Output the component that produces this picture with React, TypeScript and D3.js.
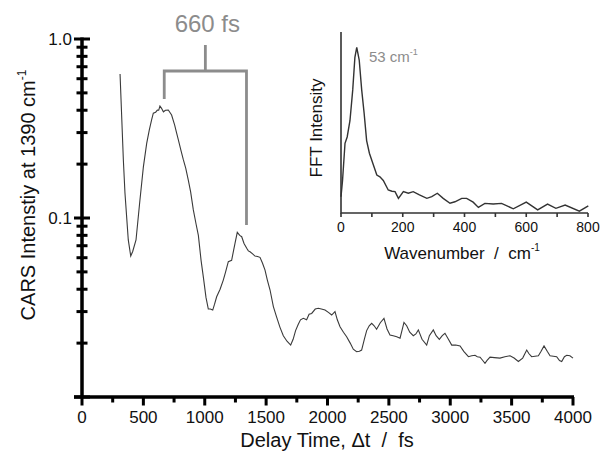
import React, { useRef, useEffect } from "react";
import * as d3 from "d3";

// main trace: CARS intensity vs delay time
const delayFs = [
  310, 337, 350, 377, 397, 413, 440, 472, 500, 527, 548, 567, 581, 600, 614, 625, 635, 648, 663, 680,
  703, 730, 755, 770, 785, 805, 826, 845, 866, 885, 907, 930, 948, 970, 990, 1010, 1029, 1045, 1065, 1080,
  1097, 1125, 1151, 1170, 1192, 1219, 1235, 1246, 1265, 1285, 1301, 1320, 1342, 1355, 1369, 1390, 1409, 1430, 1450, 1470,
  1491, 1510, 1532, 1559, 1585, 1613, 1640, 1670, 1700, 1720, 1740, 1762, 1780, 1803, 1830, 1850, 1871, 1900, 1925, 1950,
  1980, 2010, 2034, 2061, 2080, 2102, 2130, 2156, 2185, 2210, 2237, 2260, 2278, 2300, 2319, 2340, 2360, 2380, 2400, 2430,
  2460, 2485, 2509, 2535, 2564, 2591, 2610, 2623, 2645, 2670, 2699, 2720, 2740, 2770, 2808, 2830, 2862, 2885, 2911, 2935,
  2957, 2985, 3012, 3045, 3080, 3110, 3148, 3175, 3202, 3220, 3243, 3265, 3283, 3300, 3324, 3360, 3405, 3445, 3487, 3520,
  3555, 3590, 3623, 3640, 3663, 3690, 3718, 3740, 3764, 3790, 3813, 3840, 3867, 3890, 3908, 3930, 3949, 3975, 4000,
];
const carsIntensity = [
  0.637, 0.21, 0.138, 0.0754, 0.0613, 0.065, 0.0754, 0.126, 0.193, 0.261, 0.31, 0.353, 0.385, 0.39, 0.401, 0.4, 0.422, 0.41, 0.392, 0.4,
  0.401, 0.376, 0.33, 0.3, 0.273, 0.24, 0.211, 0.19, 0.163, 0.14, 0.111, 0.092, 0.08, 0.058, 0.046, 0.036, 0.031, 0.031, 0.0306, 0.033,
  0.0363, 0.04, 0.045, 0.05, 0.057, 0.058, 0.066, 0.072, 0.0832, 0.08, 0.0786, 0.072, 0.0677, 0.0655, 0.0648, 0.063, 0.0613, 0.061, 0.0603, 0.056,
  0.0512, 0.045, 0.0396, 0.032, 0.028, 0.0245, 0.022, 0.0205, 0.0195, 0.021, 0.0235, 0.0255, 0.027, 0.0275, 0.027, 0.029, 0.0293, 0.031, 0.0313, 0.031,
  0.0306, 0.0296, 0.0287, 0.03, 0.027, 0.0247, 0.023, 0.0217, 0.02, 0.0185, 0.0179, 0.018, 0.0183, 0.021, 0.0235, 0.025, 0.0258, 0.025, 0.0239, 0.026,
  0.0275, 0.024, 0.0222, 0.022, 0.0217, 0.0213, 0.024, 0.0261, 0.025, 0.023, 0.022, 0.0225, 0.0237, 0.021, 0.0195, 0.022, 0.0237, 0.022, 0.021, 0.022,
  0.0227, 0.021, 0.0195, 0.0195, 0.0193, 0.018, 0.0168, 0.017, 0.0171, 0.0168, 0.0167, 0.016, 0.0154, 0.016, 0.0167, 0.0166, 0.0165, 0.0168, 0.017, 0.0165,
  0.0158, 0.0165, 0.0183, 0.0175, 0.0168, 0.0169, 0.017, 0.018, 0.0193, 0.018, 0.017, 0.0169, 0.0168, 0.016, 0.0158, 0.0168, 0.0171, 0.017, 0.0165,
];

// inset: FFT spectrum (arbitrary units)
const wavenumber = [
  0, 5, 13, 20, 29, 38, 45, 51, 59, 67, 75, 83, 92, 103, 116, 126, 137, 153, 165, 175,
  186, 202, 218, 234, 254, 278, 294, 312, 331, 353, 369, 391, 407, 428, 445, 466, 493, 520, 558, 600,
  637, 669, 696, 726, 772, 801,
];
const fftIntensity = [
  0.09, 0.18, 0.385, 0.42, 0.51, 0.68, 0.86, 0.915, 0.845, 0.68, 0.55, 0.4, 0.33, 0.275, 0.21, 0.2, 0.18, 0.127, 0.12, 0.118,
  0.081, 0.118, 0.109, 0.118, 0.1, 0.081, 0.09, 0.109, 0.081, 0.054, 0.062, 0.081, 0.081, 0.06, 0.031, 0.053, 0.05, 0.053, 0.023, 0.06,
  0.017, 0.049, 0.026, 0.044, 0.01, 0.039,
];

const xTicks = d3.range(0, 4001, 250);
const yTicks = [0.01, 0.02, 0.03, 0.04, 0.05, 0.06, 0.07, 0.08, 0.09, 0.1, 0.2, 0.3, 0.4, 0.5, 0.6, 0.7, 0.8, 0.9, 1];
const yLabels = [0.1, 1];
const insetTicks = d3.range(0, 801, 100);
const insetLabels = d3.range(0, 801, 200);
const periodStart = 670;
const periodEnd = 1340;

const FONT = "Arial, 'Liberation Sans', sans-serif";

function App() {
  const svgRef = useRef<SVGSVGElement>(null);

  useEffect(() => {
    const svg = d3.select(svgRef.current);
    svg.selectAll("*").remove();

    const x = d3.scaleLinear().domain([0, 4000]).range([82, 573]);
    const y = d3.scaleLog().domain([0.01, 1]).range([397, 39]);
    const y0 = y(0.01);
    const x0 = x(0);

    // trace
    const pts = delayFs.map((t, i) => ({ t, v: carsIntensity[i] }));
    const line = d3.line<{ t: number; v: number }>().x((d) => x(d.t)).y((d) => y(d.v));
    svg.append("path")
      .datum(pts)
      .attr("d", line)
      .attr("fill", "none")
      .attr("stroke", "#3a3a3a")
      .attr("stroke-width", 1.1);

    // main axes + ticks
    const isMajorX = (d: number) => d % 500 === 0;
    const isMajorY = (d: number) => d === 1 || d === 0.1 || d === 0.01;
    svg.append("path")
      .attr("d", `M74,${y0}H${x(4000) + 1}M${x0},${y(1) - 1.5}V${y0}`)
      .attr("fill", "none")
      .attr("stroke", "#000")
      .attr("stroke-width", 3.5);

    svg.selectAll("rect.xtick")
      .data(xTicks)
      .join("rect")
      .attr("class", "xtick")
      .attr("x", (d) => x(d) - 1.5)
      .attr("y", y0)
      .attr("width", 3)
      .attr("height", (d) => (isMajorX(d) ? 8.5 : 5.5))
      .attr("fill", "#000");

    svg.selectAll("rect.ytick")
      .data(yTicks)
      .join("rect")
      .attr("class", "ytick")
      .attr("x", (d) => x0 - (isMajorY(d) ? 8 : 5.5))
      .attr("y", (d) => y(d) - 1.5)
      .attr("width", (d) => (isMajorY(d) ? 16 : 11))
      .attr("height", 3)
      .attr("fill", "#000");

    svg.selectAll("text.xlab")
      .data(xTicks.filter(isMajorX))
      .join("text")
      .attr("class", "xlab")
      .attr("x", (d) => x(d)).attr("y", 423)
      .attr("text-anchor", "middle")
      .attr("font-family", FONT).attr("font-size", 17).attr("fill", "#111")
      .text((d) => String(d));

    svg.selectAll("text.ylab")
      .data(yLabels)
      .join("text")
      .attr("class", "ylab")
      .attr("x", 72).attr("y", (d) => y(d))
      .attr("dy", "0.35em")
      .attr("text-anchor", "end")
      .attr("font-family", FONT).attr("font-size", 17).attr("fill", "#111")
      .text((d) => d3.format(".1f")(d));

    // axis titles
    svg.append("text")
      .attr("x", 327).attr("y", 447)
      .attr("text-anchor", "middle")
      .attr("font-family", FONT).attr("font-size", 20).attr("fill", "#111")
      .attr("xml:space", "preserve")
      .text("Delay Time, \u0394t  /  fs");

    const yt = svg.append("text")
      .attr("transform", "translate(35,195) rotate(-90)")
      .attr("text-anchor", "middle")
      .attr("font-family", FONT).attr("font-size", 20).attr("fill", "#111");
    yt.append("tspan").text("CARS Intenstiy at 1390 cm");
    yt.append("tspan").attr("font-size", 12).attr("dy", -9).text("-1");

    // 660 fs bracket
    const gray = "#8c8c8c";
    const bx1 = x(periodStart);
    const bx2 = x(periodEnd);
    const bmid = (bx1 + bx2) / 2;
    svg.append("path")
      .attr("d", `M${bx1},99V71H${bx2}V225M${bmid},45V71`)
      .attr("fill", "none")
      .attr("stroke", gray)
      .attr("stroke-width", 2.8);
    svg.append("text")
      .attr("x", bmid + 2).attr("y", 32)
      .attr("text-anchor", "middle")
      .attr("font-family", FONT).attr("font-size", 24).attr("fill", gray)
      .text("660 fs");

    // inset
    const xi = d3.scaleLinear().domain([0, 800]).range([341, 588]);
    const yi = d3.scaleLinear().domain([0, 1]).range([213, 32]);
    const ipts = wavenumber.map((w, i) => ({ w, v: fftIntensity[i] }));
    const iline = d3.line<{ w: number; v: number }>().x((d) => xi(d.w)).y((d) => yi(d.v));
    svg.append("path")
      .datum(ipts)
      .attr("d", iline)
      .attr("fill", "none")
      .attr("stroke", "#333")
      .attr("stroke-width", 1.4);

    svg.append("path")
      .attr("d", `M${xi(0)},${yi(1)}V${yi(0)}H${xi(800)}`)
      .attr("fill", "none")
      .attr("stroke", "#333")
      .attr("stroke-width", 1.6);
    svg.selectAll("rect.itick")
      .data(insetTicks)
      .join("rect")
      .attr("class", "itick")
      .attr("x", (d) => xi(d) - 0.8)
      .attr("y", yi(0))
      .attr("width", 1.6)
      .attr("height", 4)
      .attr("fill", "#333");

    svg.selectAll("text.ilab")
      .data(insetLabels)
      .join("text")
      .attr("class", "ilab")
      .attr("x", (d) => xi(d)).attr("y", 232)
      .attr("text-anchor", "middle")
      .attr("font-family", FONT).attr("font-size", 14).attr("fill", "#111")
      .text((d) => String(d));

    svg.append("text")
      .attr("transform", "translate(322,128) rotate(-90)")
      .attr("text-anchor", "middle")
      .attr("font-family", FONT).attr("font-size", 17).attr("fill", "#111")
      .text("FFT Intensity");

    const wt = svg.append("text")
      .attr("x", 462).attr("y", 259)
      .attr("text-anchor", "middle")
      .attr("font-family", FONT).attr("font-size", 17).attr("fill", "#111")
      .attr("xml:space", "preserve");
    wt.append("tspan").text("Wavenumber  /  cm");
    wt.append("tspan").attr("font-size", 10).attr("dy", -8).text("-1");

    const pk = svg.append("text")
      .attr("x", 369).attr("y", 62)
      .attr("font-family", FONT).attr("font-size", 15).attr("fill", gray);
    pk.append("tspan").text("53 cm");
    pk.append("tspan").attr("font-size", 9).attr("dy", -7).text("-1");
  }, []);

  return (
    <svg
      ref={svgRef}
      width={602}
      height={458}
      style={{ position: "absolute", left: 0, top: 0, background: "#fff" }}
    ></svg>
  );
}

export default App;
